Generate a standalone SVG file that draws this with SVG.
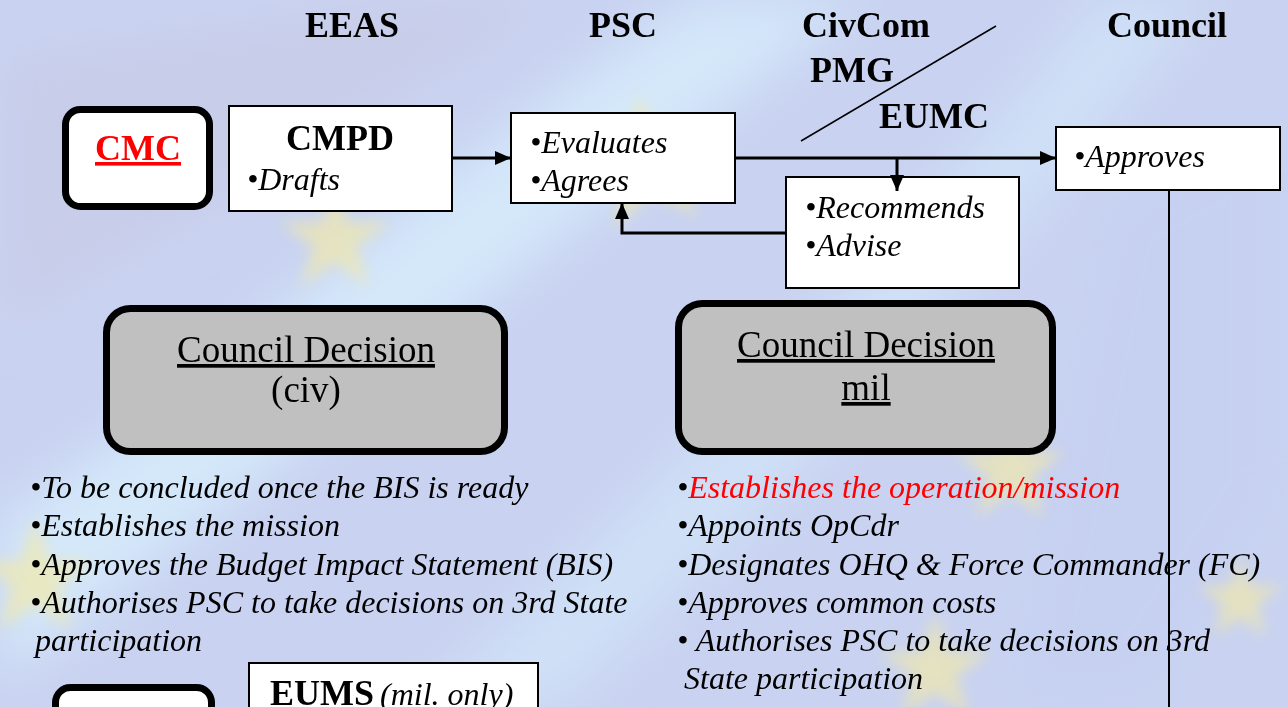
<svg xmlns="http://www.w3.org/2000/svg" width="1288" height="707" viewBox="0 0 1288 707">
<style>
.hdr{font-family:"Liberation Serif","Times New Roman",serif;font-weight:bold;font-size:36px;fill:#000}
.it{font-family:"Liberation Serif","Times New Roman",serif;font-style:italic;font-size:32px;fill:#000}
.reg{font-family:"Liberation Serif","Times New Roman",serif;font-size:37px;fill:#000}
.box{fill:#fff;stroke:#000;stroke-width:2}
.rbox{stroke:#000;stroke-width:7}
.conn{fill:none;stroke:#000;stroke-width:3}
</style>
<defs>
<path id="star" d="M0,-1 L0.2245,-0.309 L0.951,-0.309 L0.363,0.118 L0.588,0.809 L0,0.382 L-0.588,0.809 L-0.363,0.118 L-0.951,-0.309 L-0.2245,-0.309 Z"/>
<filter id="blur" x="-20%" y="-20%" width="140%" height="140%"><feGaussianBlur stdDeviation="7"/></filter>
<filter id="blur2" x="-30%" y="-30%" width="160%" height="160%"><feGaussianBlur stdDeviation="25"/></filter>
<marker id="ah" markerUnits="userSpaceOnUse" markerWidth="16" markerHeight="14" refX="16" refY="7" orient="auto">
<path d="M0,0 L16,7 L0,14 Z" fill="#000"/>
</marker>
</defs>

<g id="background">
<rect x="0" y="0" width="1288" height="707" fill="#c9d3f1"/>
<g filter="url(#blur2)">
<path d="M0,60 L420,0 L560,0 L0,330 Z" fill="#c7cae6" opacity="0.7"/>
<path d="M0,520 C200,400 450,150 700,0 L860,0 C600,200 300,450 0,680 Z" fill="#d6ecfb" opacity="0.85"/>
<path d="M420,707 C650,500 900,250 1100,0 L1200,0 C1000,260 760,520 560,707 Z" fill="#d2e6fa" opacity="0.7"/>
<path d="M1100,200 L1288,100 L1288,500 L1150,707 L1000,707 Z" fill="#c5cff2" opacity="0.6"/>
</g>
<g filter="url(#blur)" fill="#f3e9a6" opacity="0.65">
<use href="#star" transform="translate(648,165) rotate(-8) scale(72)"/>
<use href="#star" transform="translate(335,240) scale(58)"/>
<use href="#star" transform="translate(35,580) scale(62)"/>
<use href="#star" transform="translate(1010,470) scale(58)"/>
<use href="#star" transform="translate(935,670) scale(58)"/>
<use href="#star" transform="translate(1240,600) scale(45)"/>
</g>
</g>

<g id="headers">
<text class="hdr" x="352" y="37" text-anchor="middle">EEAS</text>
<text class="hdr" x="623" y="37" text-anchor="middle">PSC</text>
<text class="hdr" x="866" y="37" text-anchor="middle">CivCom</text>
<text class="hdr" x="852" y="82" text-anchor="middle">PMG</text>
<text class="hdr" x="934" y="128" text-anchor="middle">EUMC</text>
<text class="hdr" x="1167" y="37" text-anchor="middle">Council</text>
<line x1="996" y1="26" x2="801" y2="141" stroke="#000" stroke-width="1.5"/>
</g>

<g id="cmc">
<rect class="rbox" x="65.5" y="109.5" width="144" height="97" rx="15" fill="#fff"/>
<text class="hdr" x="138" y="160" text-anchor="middle" style="fill:#ff0000" text-decoration="underline">CMC</text>
</g>

<g id="cmpd">
<rect class="box" x="229" y="106" width="223" height="105"/>
<text class="hdr" x="340" y="150" text-anchor="middle">CMPD</text>
<text class="it" x="247" y="190">•Drafts</text>
</g>

<g id="psc">
<rect class="box" x="511" y="113" width="224" height="90"/>
<text class="it" x="530" y="153">•Evaluates</text>
<text class="it" x="530" y="191">•Agrees</text>
</g>

<g id="committees">
<rect class="box" x="786" y="177" width="233" height="111"/>
<text class="it" x="805" y="218">•Recommends</text>
<text class="it" x="805" y="256">•Advise</text>
</g>

<g id="council">
<rect class="box" x="1056" y="127" width="224" height="63"/>
<text class="it" x="1074" y="167">•Approves</text>
</g>

<g id="cd-civ">
<rect class="rbox" x="106.5" y="308.5" width="398" height="143" rx="24" fill="#c0c0c0"/>
<text class="reg" x="306" y="362" text-anchor="middle" text-decoration="underline">Council Decision</text>
<text class="reg" x="306" y="402" text-anchor="middle">(civ)</text>
</g>

<g id="cd-mil">
<rect class="rbox" x="678.5" y="303.5" width="374" height="148" rx="24" fill="#c0c0c0"/>
<text class="reg" x="866" y="357" text-anchor="middle" text-decoration="underline">Council Decision</text>
<text class="reg" x="866" y="400" text-anchor="middle" text-decoration="underline">mil</text>
</g>

<g id="civ-list">
<text class="it" x="30" y="498">•To be concluded once the BIS is ready</text>
<text class="it" x="30" y="536">•Establishes the mission</text>
<text class="it" x="30" y="575">•Approves the Budget Impact Statement (BIS)</text>
<text class="it" x="30" y="613">•Authorises PSC to take decisions on 3rd State</text>
<text class="it" x="35" y="651">participation</text>
</g>

<g id="mil-list">
<text class="it" x="677" y="498">•<tspan style="fill:#ff0000">Establishes the operation/mission</tspan></text>
<text class="it" x="677" y="536">•Appoints OpCdr</text>
<text class="it" x="677" y="575">•Designates OHQ &amp; Force Commander (FC)</text>
<text class="it" x="677" y="613">•Approves common costs</text>
<text class="it" x="677" y="651">• Authorises PSC to take decisions on 3rd</text>
<text class="it" x="684" y="689">State participation</text>
</g>

<g id="bottom-rounded">
<rect class="rbox" x="55.5" y="687.5" width="156" height="60" rx="15" fill="#fff"/>
</g>

<g id="eums">
<rect class="box" x="249" y="663" width="289" height="60"/>
<text x="270" y="705"><tspan class="hdr">EUMS</tspan><tspan class="it" font-size="28" dx="6">(mil. only)</tspan></text>
</g>

<g id="connectors">
<line class="conn" x1="452" y1="158" x2="511" y2="158" marker-end="url(#ah)"/>
<line class="conn" x1="735" y1="158" x2="1056" y2="158" marker-end="url(#ah)"/>
<line class="conn" x1="897" y1="158" x2="897" y2="191" marker-end="url(#ah)"/>
<polyline class="conn" points="786,233 622,233 622,203" marker-end="url(#ah)"/>
<line x1="1169" y1="190" x2="1169" y2="707" stroke="#000" stroke-width="2"/>
</g>
</svg>
